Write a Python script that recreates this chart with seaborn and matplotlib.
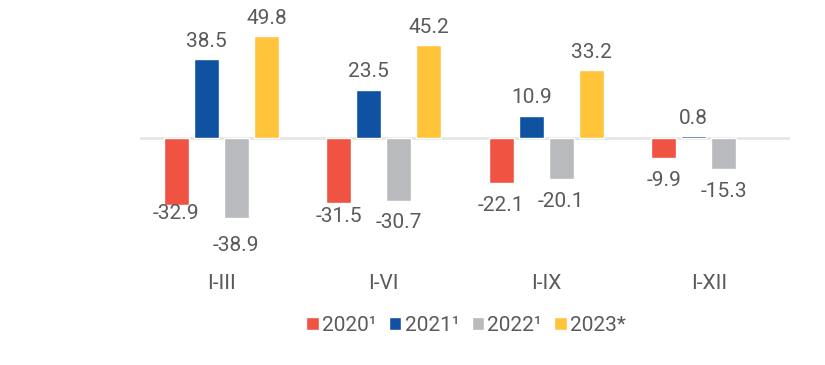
import pandas as pd
import seaborn as sns
from matplotlib import pyplot as plt

periods = ['I-III', 'I-VI', 'I-IX', 'I-XII']
years = ['2020¹', '2021¹', '2022¹', '2023*']
v2020 = [-32.9, -31.5, -22.1, -9.9]
v2021 = [38.5, 23.5, 10.9, 0.8]
v2022 = [-38.9, -30.7, -20.1, -15.3]
v2023 = [49.8, 45.2, 33.2]

colors = ['#F05341', '#0E52A1', '#B9BABD', '#FFC43A']
txt_color = '#5a5a5a'

rows = []
for year, vals in zip(years, [v2020, v2021, v2022, v2023]):
    for p, v in zip(periods, vals):
        rows.append({'period': p, 'year': year, 'value': v})
df = pd.DataFrame(rows)

sns.set_style('white')
plt.rcParams['font.family'] = ['Roboto', 'DejaVu Sans']

fig = plt.figure(figsize=(8.25, 3.65), dpi=100)
ax = fig.add_axes([0.1697, 0.3411, 0.7879, 0.6178])

sns.barplot(data=df, x='period', y='value', hue='year', order=periods, hue_order=years,
            palette=colors, width=0.74, gap=0.17, saturation=1, ax=ax, err_kws={'linewidth': 0})

ax.axhline(0, color='#e6e6e6', lw=2, zorder=0)
ax.set_xlim(-0.5, 3.5)
ax.set_ylim(-50, 60)
ax.set_xlabel('')
ax.set_ylabel('')
ax.set_yticks([])
ax.tick_params(axis='x', length=0, pad=24, labelsize=15, labelcolor=txt_color)
sns.despine(ax=ax, left=True, bottom=True)

# label offsets (pt) where the original nudged labels around
pad_fix = {(0, 0): -1, (0, 2): 13, (1, 0): 3}
for hi, cont in enumerate(ax.containers):
    for pi, bar in enumerate(cont):
        h = bar.get_height()
        if pi >= len(df[df.year == years[hi]]):
            continue
        pad = pad_fix.get((pi, hi), 6 if h >= 0 else 9)
        x = bar.get_x() + bar.get_width() / 2
        ax.annotate(f'{h:.1f}', (x, h), xytext=(0, pad if h >= 0 else -pad),
                    textcoords='offset points', ha='center',
                    va='bottom' if h >= 0 else 'top',
                    fontsize=15, color=txt_color, annotation_clip=False)

old = ax.get_legend()
handles = old.legend_handles
labels = [t.get_text() for t in old.texts]
old.remove()
ax.legend(handles, labels, loc='center', bbox_to_anchor=(0.565, 0.108),
          bbox_transform=fig.transFigure, ncol=4, frameon=False, fontsize=15,
          handlelength=0.6, handleheight=0.6, handletextpad=0.15, columnspacing=0.6,
          labelcolor=txt_color)

fig.savefig('out.png', dpi=100)
